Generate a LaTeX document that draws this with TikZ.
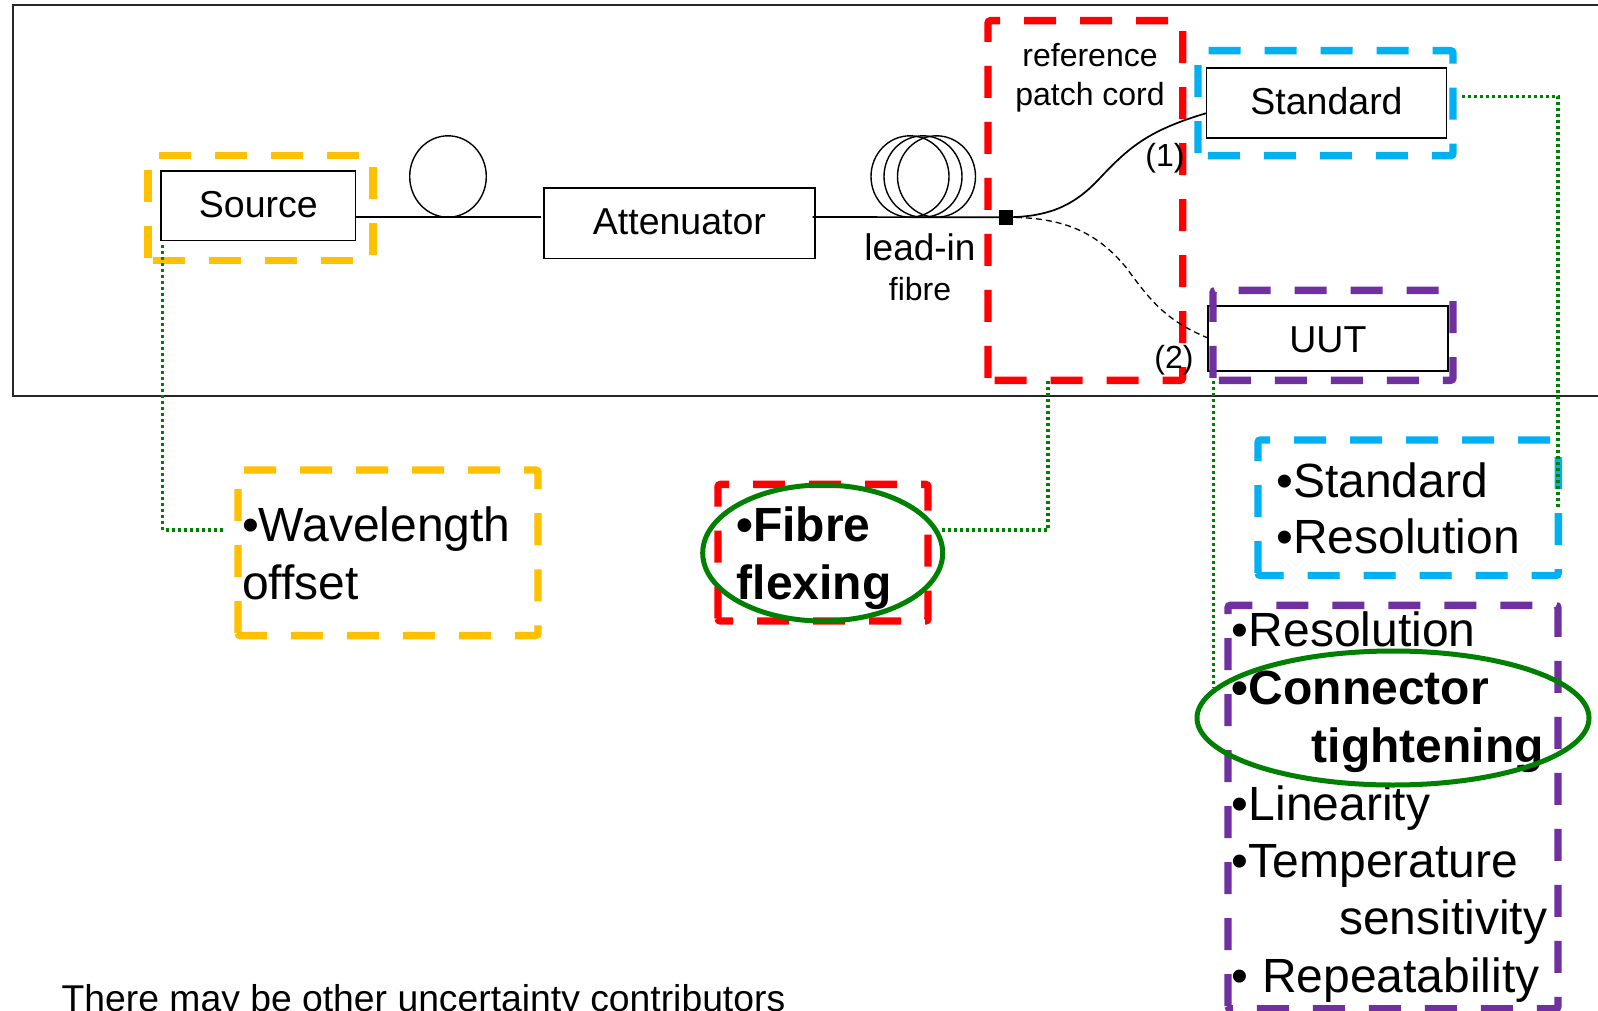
\documentclass[tikz,border=0pt]{standalone}
\usepackage{fontspec}
\setmainfont{Liberation Sans}
\definecolor{cOrange}{HTML}{FFC000}
\definecolor{cBlue}{HTML}{00B0F0}
\definecolor{cRed}{HTML}{FF0000}
\definecolor{cPurple}{HTML}{7030A0}
\definecolor{cGreen}{HTML}{008000}
\tikzset{
  devbox/.style={draw=black,line width=1.6pt,fill=white,inner sep=0pt,font=\fontsize{37.5}{44}\selectfont,text height=27pt,text depth=4pt},
  dashbox/.style={line width=7.4pt,rounded corners=2.5pt,dash pattern=on 32pt off 24pt},
  frameline/.style={line width=1.8pt,draw=black!85},
  fibre/.style={line width=1.7pt,draw=black},
  fibredash/.style={line width=1.3pt,draw=black,dash pattern=on 6pt off 4pt},
  coil/.style={line width=1.4pt,draw=black},
  link/.style={line width=3.2pt,draw=cGreen,dash pattern=on 3pt off 3pt},
  ring/.style={line width=5pt,draw=cGreen},
  lab/.style={inner sep=0pt,font=\fontsize{32}{38}\selectfont},
  labb/.style={inner sep=0pt,font=\fontsize{37}{44}\selectfont},
  big/.style={inner sep=0pt,anchor=base west,font=\fontsize{48}{57}\selectfont},
  bigb/.style={inner sep=0pt,anchor=base west,font=\fontsize{48}{57}\selectfont\bfseries},
}
% name, left, top, right, bottom, colour
\newcommand{\dashrect}[6]{%
  \coordinate (#1nw) at (#2,-#3);
  \coordinate (#1ne) at (#4,-#3);
  \coordinate (#1se) at (#4,-#5);
  \coordinate (#1sw) at (#2,-#5);
  \draw[dashbox,draw=#6] (#1sw) -- (#1nw) -- (#1ne) -- (#1se) -- cycle;
}
\begin{document}
\begin{tikzpicture}[x=1pt,y=1pt]
\clip (0,0) rectangle (1598,-1011);
\fill[white] (0,0) rectangle (1598,-1011);
% outer frame
\draw[frameline] (1600,-5.3) -- (12.8,-5.3) -- (12.8,-395.7) -- (1600,-395.7);

% coils
\draw[coil] (448,-176.5) ellipse [x radius=38.3,y radius=40.7];
\draw[coil] (910,-176.5) ellipse [x radius=39,y radius=40.7];
\draw[coil] (923,-176.5) ellipse [x radius=39,y radius=40.7];
\draw[coil] (936.5,-176.5) ellipse [x radius=39,y radius=40.7];

% devices
\node[devbox,minimum width=194.6pt,minimum height=69.7pt] (source) at (258.3,-205.8) {Source};
\node[devbox,minimum width=270.8pt,minimum height=70pt] (atten) at (679.4,-223.3) {Attenuator};
\node[devbox,minimum width=239.7pt,minimum height=70pt] (standard) at (1326.5,-103.3) {Standard};
\node[devbox,text depth=0pt,minimum width=239.8pt,minimum height=65pt] (uut) at (1327.9,-338.5) {UUT};
\node[fill=black,inner sep=0pt,minimum width=14pt,minimum height=14.7pt] (splice) at (1006,-217.3) {};

% fibres
\coordinate (fibreA) at (355.6,-217);
\coordinate (fibreB) at (541,-217);
\coordinate (fibreC) at (812.7,-217);
\draw[fibre] (fibreA) -- (fibreB);
\draw[fibre] (fibreC) -- (splice.center);

% labels
\node[lab] (refa) at (1090,-55) {reference};
\node[lab] (refb) at (1090,-97) {patch cord};
\node[labb] (lead) at (920,-247) {lead-in};
\node[lab] (fib) at (920,-289) {fibre};

% dashed frames
\dashrect{dsrc}{148}{155.7}{373}{260.3}{cOrange}
\dashrect{dref}{988}{20.7}{1182.7}{380.3}{cRed}
\dashrect{dstd}{1198}{50.7}{1453}{155.7}{cBlue}
\dashrect{duut}{1213}{290.3}{1453}{380.3}{cPurple}
\dashrect{lwl}{238}{470}{538}{635.6}{cOrange}
\dashrect{lfib}{718}{484.4}{928}{621}{cRed}
\dashrect{lstd}{1258}{440}{1558.3}{575.5}{cBlue}
\dashrect{luut}{1228}{605.3}{1558}{1008.7}{cPurple}

% fibre branches
\draw[fibre] (splice.center) .. controls (1050,-217) and (1075,-205) .. (1100,-178)
  .. controls (1130,-146) and (1150,-130) .. (standard.west |- 0,-113.3);
\draw[fibredash] (splice.center) .. controls (1060,-217) and (1095,-230) .. (1125.7,-267)
  .. controls (1150,-300) and (1165,-320) .. (uut.west |- 0,-337.7);
\node[lab] (one) at (1165,-158) {(1)};
\node[lab] (two) at (1174,-360) {(2)};

% dotted links
\coordinate (linkA) at (162.7,-245);
\coordinate (linkB) at (224,-530);
\draw[link] (linkA) |- (linkB);
\coordinate (linkC) at (1048,-381);
\coordinate (linkD) at (942,-530);
\draw[link] (linkC) |- (linkD);
\coordinate (linkE) at (1461.6,-96.5);
\coordinate (linkF) at (1558,-508.7);
\draw[link] (linkE) -| (linkF);
\coordinate (linkG) at (1213.3,-381);
\coordinate (linkH) at (1213.3,-688);
\draw[link] (linkG) -- (linkH);

% lists
\node[big] (w1) at (241.8,-541) {•Wavelength};
\node[big] (w2) at (242,-599) {offset};
\node[bigb] (f1) at (736,-541.5) {•Fibre};
\node[bigb] (f2) at (736.5,-599) {flexing};
\node[big] (s1) at (1276,-497) {•Standard};
\node[big] (s2) at (1276,-553.5) {•Resolution};
\node[big] (p1) at (1231.7,-646.9) {•Resolution};
\node[bigb] (p2) at (1231.7,-704.5) {•Connector};
\node[bigb] (p3) at (1311.5,-762) {tightening};
\node[big] (p4) at (1231.7,-820) {•Linearity};
\node[big] (p5) at (1231.7,-877) {•Temperature};
\node[big] (p6) at (1339,-934) {sensitivity};
\node[big] (p7) at (1231.7,-992) {•\ Repeatability};
\node[inner sep=0pt,anchor=base west,font=\fontsize{37.3}{46}\selectfont] (note) at (61.5,-1011) {There may be other uncertainty contributors};

% green rings
\draw[ring] (822.7,-553) ellipse [x radius=120,y radius=68];
\draw[ring] (1393,-718) ellipse [x radius=196,y radius=67];
\end{tikzpicture}
\end{document}
